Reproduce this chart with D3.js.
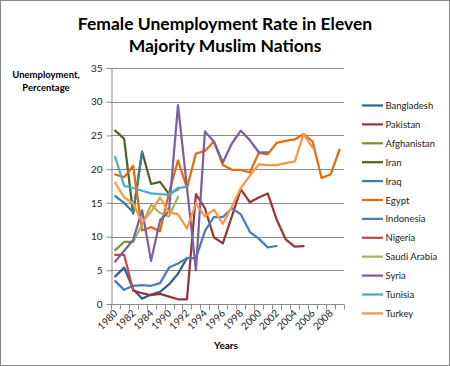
<!DOCTYPE html>
<html><head><meta charset="utf-8">
<script src="https://cdn.jsdelivr.net/npm/d3@7"></script>
<style>
html,body{margin:0;padding:0;background:#fff;}
svg{display:block;font-family:Lato,"Open Sans",sans-serif;}
</style></head>
<body>
<script>
const years = ["1980","1981","1982","1983","1984","1985","1990","1991","1992","1993","1994","1995","1996","1997","1998","1999","2000","2001","2002","2003","2004","2005","2006","2007","2008","2009"];
const yTicks = [0,5,10,15,20,25,30,35];
const countries = ["Bangladesh","Pakistan","Afghanistan","Iran","Iraq","Egypt","Indonesia","Nigeria","Saudi Arabia","Syria","Tunisia","Turkey"];
const colors = ["#376092","#953735","#77933C","#4F6228","#31859C","#E46C0A","#4A7EBB","#BE4B48","#9BBB59","#7D60A0","#4BACC6","#F79646"];

const bangladesh  = [4.1, 5.4, 2.2, 0.8, 1.4, 1.8, 2.9, 4.5, 6.8];
const pakistan    = [null, null, 2.0, 1.6, 1.3, 1.5, 1.1, 0.7, 0.7, 16.3, 14.2, 9.9, 9.0, 13.0, 17.0, 15.1, 15.8, 16.4, 12.5, 9.6, 8.5, 8.6];
const afghanistan = [8.0, 9.2, 9.2];
const iran        = [25.7, 24.5, 13.4, 22.6, 17.8, 18.1, 16.3, 17.0];
const iraq        = [16.0, 15.0, 13.6, 22.5];
const egypt       = [19.2, 18.8, 20.5, 10.9, 11.4, 10.8, 16.5, 21.3, 17.2, 22.3, 22.7, 24.1, 20.6, 19.9, 19.9, 19.5, 22.4, 22.2, 23.9, 24.2, 24.4, 25.2, 24.1, 18.7, 19.2, 22.9];
const indonesia   = [3.4, 2.1, 2.7, 2.8, 2.7, 3.1, 5.4, 6.0, 6.8, 6.8, 10.8, 12.9, 12.9, 14.2, 13.3, 10.7, 9.7, 8.4, 8.6];
const nigeria     = [7.3, 7.3, 2.0];
const saudiArabia = [null, null, 9.2, 11.8, 14.7, 13.5, 13.0, 15.9];
const syria       = [6.3, 7.9, 9.5, 13.9, 6.4, 12.4, 13.8, 29.5, 17.3, 5.0, 25.6, 24.1, 21.0, 23.8, 25.7, 24.3, 22.5, 22.5];
const tunisia     = [21.8, 17.5, 17.2, 16.8, 16.4, 16.3, 16.2, 17.2, 17.4];
const turkey      = [18.0, 15.8, 14.9, 12.1, 13.7, 15.8, 13.6, 13.3, 11.2, 14.9, 13.0, 14.0, 11.9, 14.4, 17.2, 19.0, 20.7, 20.6, 20.6, 20.9, 21.1, 25.2, 23.2];

const seriesValues = [bangladesh, pakistan, afghanistan, iran, iraq, egypt, indonesia, nigeria, saudiArabia, syria, tunisia, turkey];

const W = 450, H = 366;
const plot = {left: 110.7, right: 344, top: 68, bottom: 304};

const svg = d3.select("body").append("svg").attr("width", W).attr("height", H);
svg.append("rect").attr("x",0.5).attr("y",0.5).attr("width",W-1).attr("height",H-1)
  .attr("fill","#fff").attr("stroke","#868686").attr("stroke-width",1);

const x = d3.scaleBand().domain(years).range([plot.left, plot.right]).padding(0);
const y = d3.scaleLinear().domain([0,35]).range([plot.bottom, plot.top]);

// gridlines
svg.append("g").selectAll("line").data(yTicks.filter(d=>d>0)).join("line")
  .attr("x1", plot.left).attr("x2", plot.right)
  .attr("y1", d=>Math.round(y(d))+0.5).attr("y2", d=>Math.round(y(d))+0.5)
  .attr("stroke","#8c8c8c").attr("stroke-width",1);

// y axis
const yAxis = svg.append("g").attr("transform",`translate(${Math.round(plot.left)+0.5},0)`)
  .call(d3.axisLeft(y).tickValues(yTicks).tickSize(5).tickPadding(4).tickSizeOuter(0));
yAxis.select(".domain").attr("stroke","#8c8c8c");
yAxis.selectAll(".tick line").attr("stroke","#8c8c8c");
yAxis.selectAll(".tick text").attr("font-size",10).attr("fill","#222").attr("font-family","Lato");

// x axis
const xAxisG = svg.append("g").attr("transform",`translate(0,${Math.round(plot.bottom)+0.5})`);
xAxisG.append("line").attr("x1",plot.left).attr("x2",plot.right).attr("stroke","#8c8c8c");
const bounds = years.map(d=>x(d)).concat([x.range()[1]]);
xAxisG.selectAll("line.tk").data(bounds).join("line").attr("class","tk")
  .attr("x1",d=>Math.round(d)+0.5).attr("x2",d=>Math.round(d)+0.5).attr("y1",0).attr("y2",5)
  .attr("stroke","#8c8c8c");
const xLab = d3.axisBottom(x).tickValues(years.filter((d,i)=>i%2===0)).tickSize(0).tickSizeOuter(0);
const xl = svg.append("g").attr("transform",`translate(0,${plot.bottom})`).call(xLab);
xl.select(".domain").remove();
xl.selectAll(".tick text").attr("font-size",10).attr("fill","#222").attr("font-family","Lato")
  .attr("text-anchor","end").attr("dy",0).attr("y",0)
  .attr("transform","translate(3,10) rotate(-45)");

// lines
const line = d3.line().defined(d=>d.v!=null)
  .x(d=>x(d.k)+x.bandwidth()/2).y(d=>y(d.v));
seriesValues.forEach((vals,i)=>{
  const pts = years.map((k,j)=>({k, v: j<vals.length ? vals[j] : null}));
  svg.append("path").datum(pts).attr("d",line).attr("fill","none")
    .attr("stroke",colors[i]).attr("stroke-width",2.25)
    .attr("stroke-linejoin","round").attr("stroke-linecap","round");
});

// title
const title = svg.append("text").attr("x",225).attr("text-anchor","middle")
  .attr("font-weight","bold").attr("font-size",17.5).attr("fill","#000");
title.append("tspan").attr("x",225).attr("y",30).text("Female Unemployment Rate in Eleven");
title.append("tspan").attr("x",225).attr("y",52).text("Majority Muslim Nations");

// y title
const yt = svg.append("text").attr("text-anchor","middle").attr("font-weight","bold")
  .attr("font-size",9.5).attr("fill","#000");
yt.append("tspan").attr("x",46).attr("y",78).text("Unemployment,");
yt.append("tspan").attr("x",46).attr("y",91).text("Percentage");

// x title
svg.append("text").attr("x",226).attr("y",349).attr("text-anchor","middle")
  .attr("font-weight","bold").attr("font-size",10).text("Years");

// legend
const lg = svg.append("g");
countries.forEach((c,i)=>{
  const yy = 105.5 + i*18.9;
  lg.append("line").attr("x1",362).attr("x2",383).attr("y1",yy).attr("y2",yy)
    .attr("stroke",colors[i]).attr("stroke-width",2.25);
  lg.append("text").attr("x",385.5).attr("y",yy+3.5).attr("font-size",9.5).attr("fill","#222").text(c);
});
</script>
</body></html>
